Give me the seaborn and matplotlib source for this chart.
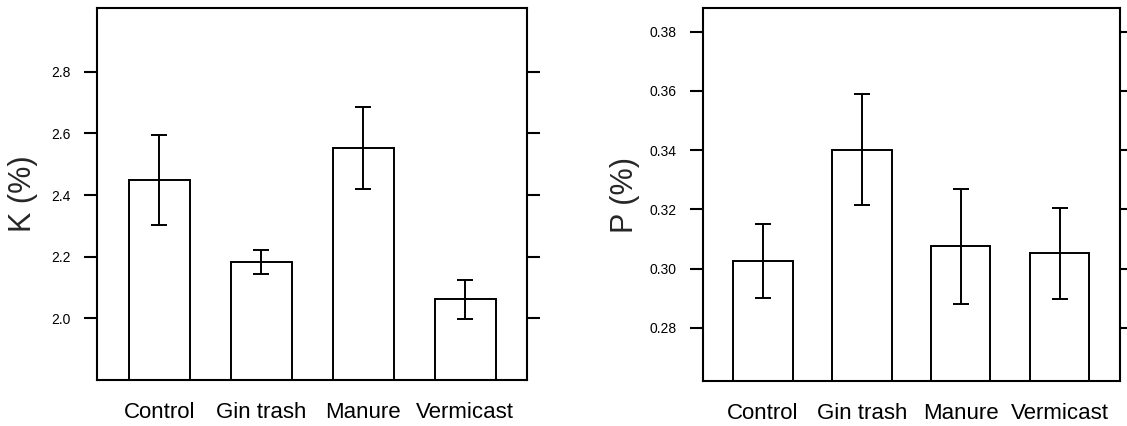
import matplotlib
matplotlib.use("Agg")
import matplotlib.pyplot as plt
import seaborn as sns
import pandas as pd

# Treatments and nutrient concentrations (mean and standard error)
treatments = ["Control", "Gin trash", "Manure", "Vermicast"]
k_mean = [2.448, 2.183, 2.553, 2.062]
k_err = [0.146, 0.040, 0.133, 0.064]
p_mean = [0.3024, 0.3402, 0.3075, 0.3052]
p_err = [0.0125, 0.0187, 0.0194, 0.0154]

k_ticks = [2.0, 2.2, 2.4, 2.6, 2.8]
k_tick_labels = ["2.0", "2.2", "2.4", "2.6", "2.8"]
p_ticks = [0.28, 0.30, 0.32, 0.34, 0.36, 0.38]
p_tick_labels = ["0.28", "0.30", "0.32", "0.34", "0.36", "0.38"]

sns.set_style("ticks")
plt.rcParams["font.family"] = ["Liberation Sans", "DejaVu Sans"]

fig = plt.figure(figsize=(11.27, 4.26), dpi=100)
ax_k = fig.add_axes([0.0863, 0.108, 0.3816, 0.8725])
ax_p = fig.add_axes([0.6235, 0.1063, 0.3703, 0.8742])

panels = [
    (ax_k, k_mean, k_err, "K (%)", (1.80, 3.006), k_ticks, k_tick_labels, -0.138),
    (ax_p, p_mean, p_err, "P (%)", (0.2621, 0.3879), p_ticks, p_tick_labels, -0.150),
]

for ax, means, errs, label, ylim, ticks, tick_labels, label_x in panels:
    df = pd.DataFrame({"treatment": treatments, "value": means})
    sns.barplot(data=df, x="treatment", y="value", ax=ax, color="white",
                edgecolor="black", linewidth=1.4, width=0.6, errorbar=None,
                saturation=1)
    ax.errorbar(range(len(treatments)), means, yerr=errs, fmt="none",
                ecolor="black", elinewidth=1.4, capsize=6, capthick=1.4)
    ax.set_xlim(-0.61, len(treatments) - 1 + 0.61)
    ax.set_ylim(*ylim)
    ax.set_yticks(ticks)
    ax.set_yticklabels(tick_labels)
    ax.set_xlabel("")
    ax.set_ylabel(label, fontsize=22)
    ax.yaxis.set_label_coords(label_x, 0.5)
    for side in ["left", "right", "top", "bottom"]:
        ax.spines[side].set_visible(True)
        ax.spines[side].set_linewidth(1.5)
        ax.spines[side].set_color("black")
    ax.tick_params(axis="y", which="both", left=True, right=True,
                   labelleft=True, labelright=False, direction="out",
                   length=9.5, width=1.5, pad=9.5, labelsize=10,
                   colors="black")
    ax.tick_params(axis="x", length=0, pad=16, labelsize=16, colors="black")

fig.savefig("out.png", dpi=100)
